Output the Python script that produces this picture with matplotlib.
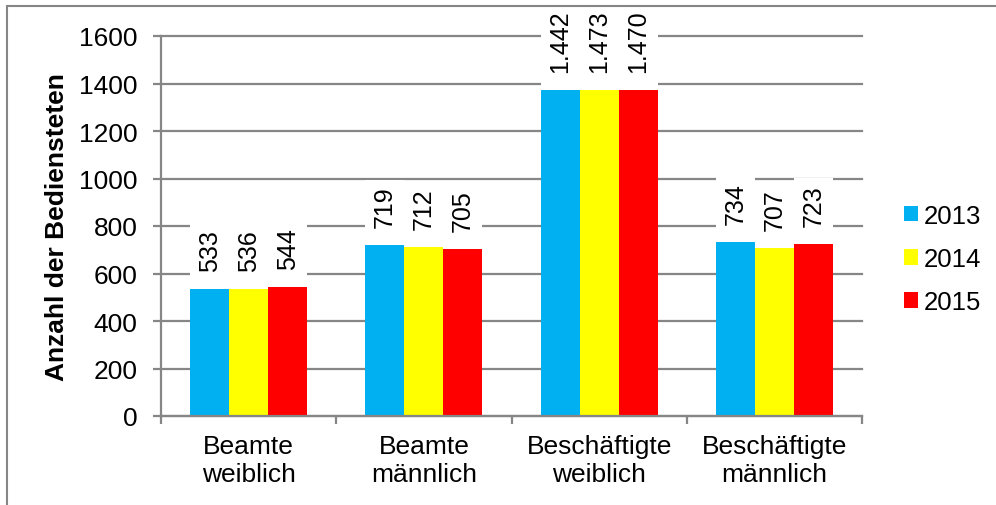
import numpy as np
import matplotlib
matplotlib.use("Agg")
import matplotlib.pyplot as plt
from matplotlib.patches import Rectangle

plt.rcParams['font.family'] = ['Liberation Sans', 'DejaVu Sans']

# Bedienstete nach Gruppe und Jahr
categories = ['Beamte\nweiblich', 'Beamte\nmännlich',
              'Beschäftigte\nweiblich', 'Beschäftigte\nmännlich']
years = ['2013', '2014', '2015']
v2013 = [533, 719, 1442, 734]
v2014 = [536, 712, 1473, 707]
v2015 = [544, 705, 1470, 723]

series = [v2013, v2014, v2015]
colors = ['#00B0F0', '#FFFF00', '#FF0000']
grey = '#868686'

YMAX = 1600
LABEL_ROOM = 228   # labels that would run out of the plot get pushed down

W, H = 996, 506
fig = plt.figure(figsize=(W / 100, H / 100), dpi=100)
ax = fig.add_axes([161 / W, 1 - 417 / H, 701 / W, 380 / H])

x = np.arange(len(categories))
w = 1 / 4.5
bars = []
for i, vals in enumerate(series):
    b = ax.bar(x + (i - 1) * w, vals, w, color=colors[i], zorder=2,
               label=years[i])
    bars.append(b)

ax.set_xlim(-0.5, len(categories) - 0.5)
ax.set_ylim(0, YMAX)
ax.set_yticks(range(0, YMAX + 1, 200))
ax.yaxis.grid(True, color=grey, lw=1.6)
ax.set_axisbelow(True)
for gl in ax.get_ygridlines():
    gl.set_clip_on(False)

for s in ['top', 'right']:
    ax.spines[s].set_visible(False)
for s in ['left', 'bottom']:
    ax.spines[s].set_color(grey)
    ax.spines[s].set_linewidth(1.6)

# group separators as major ticks, names on minor ticks
ax.set_xticks(np.arange(len(categories) + 1) - 0.5)
ax.set_xticklabels([])
ax.set_xticks(x, categories, minor=True)
ax.tick_params(axis='x', which='major', length=6, width=1.6, color=grey,
               direction='out')
ax.tick_params(axis='x', which='minor', length=0, pad=13, labelsize=19)
ax.tick_params(axis='y', length=6, width=1.6, color=grey, pad=11,
               labelsize=19)

ax.set_ylabel('Anzahl der Bediensteten', fontsize=19, fontweight='bold')
ax.yaxis.set_label_coords(-0.131, 0.5)

# value labels
cap = YMAX - LABEL_ROOM
labels = []
for i, vals in enumerate(series):
    for j, v in enumerate(vals):
        base = min(v, cap)
        txt = f"{v:,}".replace(',', '.')
        t = ax.annotate(txt, (x[j] + (i - 1) * w, base), xytext=(0, 13),
                        textcoords='offset points', rotation=90,
                        ha='center', va='bottom', fontsize=18, zorder=4,
                        annotation_clip=False)
        labels.append((t, x[j] + (i - 1) * w, base))

# white boxes behind the labels, as wide as the bars
fig.canvas.draw()
renderer = fig.canvas.get_renderer()
inv = ax.transData.inverted()
for t, xp, base in labels:
    bb = t.get_window_extent(renderer)
    top = inv.transform((0, bb.y1 + 6))[1]
    ax.bar(xp, top - base, w, bottom=base, color='white', zorder=3,
           clip_on=False)
ax.set_ylim(0, YMAX)

fig.legend(handles=bars, labels=years, loc='center left',
           bbox_to_anchor=(904 / W, 1 - 260 / H), frameon=False,
           fontsize=18.5, handlelength=0.55, handleheight=0.55,
           handletextpad=0.2, labelspacing=0.75, borderpad=0,
           borderaxespad=0)

# outer chart frame
fig.add_artist(Rectangle((7 / W, -0.1), 1.2, 1.1 - 7 / H,
                         transform=fig.transFigure, fill=False,
                         ec=grey, lw=1.5))

fig.savefig('out.png', dpi=100)
